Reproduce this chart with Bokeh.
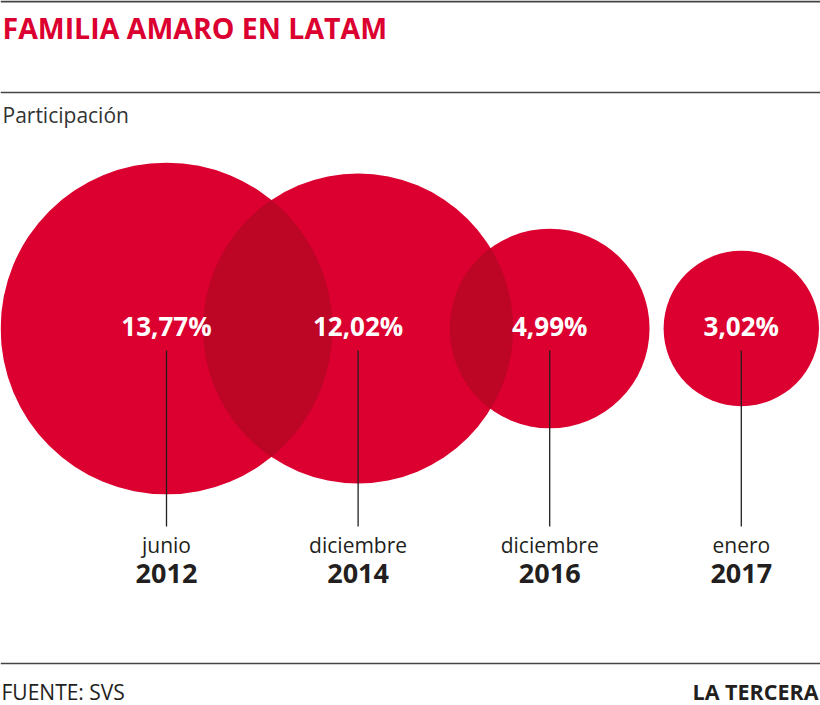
import numpy as np
from bokeh.plotting import figure
from bokeh.models import Range1d, ColumnDataSource
from bokeh.core.properties import value
from bokeh.embed import file_html
from bokeh.resources import INLINE

# ---- data ----
months = ["junio", "diciembre", "diciembre", "enero"]
years = ["2012", "2014", "2016", "2017"]
shares = [13.77, 12.02, 4.99, 3.02]
share_labels = ["13,77%", "12,02%", "4,99%", "3,02%"]

title = "FAMILIA AMARO EN LATAM"
subtitle = "Participación"
source_txt = "FUENTE: SVS"
brand = "LA TERCERA"

# ---- layout constants (reference pixel space) ----
W, H = 820, 705
X0, X1 = 0, W
Y0, Y1 = 0, H
RED = "#DB0030"
DARK_RED = "#BD0526"
INK = "#231F20"
FONT = value("Open Sans")

first_cx, step, cy = 166.0, 191.6, 328.0
k = 44.7  # px per sqrt(percent) -> circle area proportional to value

n = len(shares)
cx = np.array([first_cx + i * step for i in range(n)])
r = k * np.sqrt(np.array(shares))

p = figure(width=W, height=H, output_backend="svg", toolbar_location=None,
           x_range=Range1d(X0, X1), y_range=Range1d(Y1, Y0),
           min_border=0)
p.axis.visible = False
p.grid.visible = False
p.outline_line_color = None
p.background_fill_color = "white"
p.border_fill_color = "white"

src = ColumnDataSource(dict(x=cx, y=[cy] * n, r=r, lab=share_labels,
                            month=months, year=years))
p.circle(x="x", y="y", radius="r", source=src, fill_color=RED, line_color=None)

# overlap lenses between neighbouring circles
lx, ly = [], []
for i in range(n - 1):
    c1, c2, r1, r2 = cx[i], cx[i + 1], r[i], r[i + 1]
    d = c2 - c1
    if d >= r1 + r2:
        continue
    a = (d * d + r1 * r1 - r2 * r2) / (2 * d)
    h = np.sqrt(max(r1 * r1 - a * a, 0))
    tA = np.arctan2(h, a)
    tB = np.arctan2(h, d - a)
    t1 = np.linspace(-tA, tA, 80)
    t2 = np.linspace(np.pi - tB, np.pi + tB, 80)
    xs = np.concatenate([c1 + r1 * np.cos(t1), c2 + r2 * np.cos(t2)])
    ys = np.concatenate([cy + r1 * np.sin(t1), cy + r2 * np.sin(t2)])
    lx.append(list(xs))
    ly.append(list(ys))
if lx:
    p.patches(xs=lx, ys=ly, fill_color=DARK_RED, line_color=None)

# leader lines
p.segment(x0="x", y0=350, x1="x", y1=526, source=src, line_color=INK, line_width=1.3)

# value labels
p.text(x="x", y=325, text="lab", source=src, text_font=FONT, text_font_style="bold",
       text_font_size="26px", text_color="white", text_align="center",
       text_baseline="middle")
p.text(x="x", y=544, text="month", source=src, text_font=FONT,
       text_font_size="21px", text_color=INK, text_align="center",
       text_baseline="middle")
p.text(x="x", y=573, text="year", source=src, text_font=FONT, text_font_style="bold",
       text_font_size="27px", text_color=INK, text_align="center",
       text_baseline="middle")

# rules
p.segment(x0=[X0, X0, X0], y0=[1, 92, 663], x1=[X1, X1, X1], y1=[1, 92, 663],
          line_color="#444444", line_width=[2, 1.5, 1.5])

# header / footer texts
p.text(x=[2], y=[27], text=[title], text_font=FONT, text_font_style="bold",
       text_font_size="28.5px", text_color=RED, text_baseline="middle")
p.text(x=[2], y=[114], text=[subtitle], text_font=FONT,
       text_font_size="21px", text_color="#333333", text_baseline="middle")
p.text(x=[1], y=[691], text=[source_txt], text_font=FONT,
       text_font_size="21px", text_color=INK, text_baseline="middle")
p.text(x=[818], y=[691], text=[brand], text_font=FONT, text_font_style="bold",
       text_font_size="21.5px", text_color=INK, text_align="right",
       text_baseline="middle")

open("out.html", "w").write(file_html(p, INLINE))
